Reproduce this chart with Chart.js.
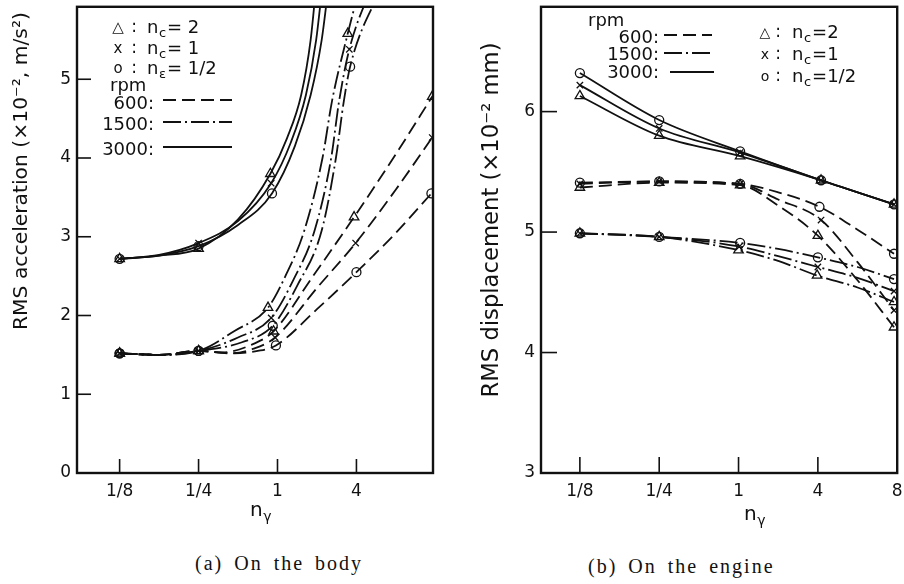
<!DOCTYPE html>
<html><head><meta charset="utf-8">
<script src="https://cdn.jsdelivr.net/npm/chart.js@4.4.0/dist/chart.umd.min.js"></script>
<style>
body{margin:0;background:#fff;width:904px;height:584px;overflow:hidden;position:relative}
#ca{position:absolute;left:0;top:0}
#cb{position:absolute;left:452px;top:0}
.cap{position:absolute;font-family:"Liberation Serif","DejaVu Serif",serif;font-size:20px;letter-spacing:2px;word-spacing:4px;color:#111;white-space:nowrap}
</style></head><body>
<canvas id="ca" width="450" height="540"></canvas>
<canvas id="cb" width="452" height="540"></canvas>
<div class="cap" style="left:195px;top:552px">(a) On the body</div>
<div class="cap" style="left:588px;top:555px">(b) On the engine</div>
<script>
// ---------- tick labels ----------
const xLabelsA = ['1/8','1/4','1','4'];
const xTickPosA = [0,1,2,3];
const yTicksA = [0,1,2,3,4,5];
const xLabelsB = ['1/8','1/4','1','4','8'];
const xTickPosB = [0,1,2,3,4];
const yTicksB = [3,4,5,6];

// ---------- (a) RMS acceleration on the body : [x position, value, marker?] ----------
const acc3000Tri = [[0,2.72,1],[0.5,2.76,0],[1,2.85,1],[1.5,3.22,0],[1.91,3.80,1],[2.12,4.25,0],[2.3,4.8,0],[2.42,5.5,0],[2.5,6.3,0]];
const acc3000X   = [[0,2.72,1],[0.5,2.77,0],[1,2.92,1],[1.5,3.20,0],[1.92,3.68,1],[2.17,4.2,0],[2.36,4.8,0],[2.49,5.5,0],[2.58,6.3,0]];
const acc3000O   = [[0,2.72,1],[0.5,2.76,0],[1,2.88,1],[1.5,3.15,0],[1.93,3.55,1],[2.22,4.15,0],[2.42,4.8,0],[2.56,5.5,0],[2.66,6.3,0]];

const acc1500Tri = [[0,1.52,1],[0.5,1.50,0],[1,1.55,1],[1.45,1.80,0],[1.88,2.10,1],[2.1,2.5,0],[2.34,3.08,0],[2.57,4.0,0],[2.69,4.72,0],[2.89,5.58,1],[3.05,6.2,0]];
const acc1500X   = [[0,1.52,1],[0.5,1.50,0],[1,1.55,1],[1.5,1.72,0],[1.92,1.97,1],[2.2,2.45,0],[2.47,3.08,0],[2.68,4.0,0],[2.78,4.72,0],[2.91,5.38,1],[3.2,6.2,0]];
const acc1500O   = [[0,1.52,1],[0.5,1.50,0],[1,1.55,1],[1.55,1.66,0],[1.94,1.87,1],[2.25,2.38,0],[2.56,3.08,0],[2.74,4.0,0],[2.84,4.72,0],[2.92,5.16,1],[3.33,6.2,0]];

const acc600Tri  = [[0,1.52,1],[0.5,1.50,0],[1,1.55,1],[1.3,1.53,0],[1.65,1.62,0],[1.95,1.80,1],[2.45,2.5,0],[2.97,3.25,1],[3.5,4.05,0],[3.96,4.78,1]];
const acc600X    = [[0,1.52,1],[0.5,1.50,0],[1,1.55,1],[1.4,1.52,0],[1.7,1.58,0],[1.97,1.72,1],[2.5,2.35,0],[2.99,2.92,1],[3.5,3.6,0],[3.96,4.26,1]];
const acc600O    = [[0,1.52,1],[0.5,1.50,0],[1,1.55,1],[1.45,1.52,0],[1.75,1.55,0],[1.98,1.62,1],[2.5,2.08,0],[3.0,2.55,1],[3.5,3.05,0],[3.95,3.55,1]];

// ---------- (b) RMS displacement on the engine ----------
const dis3000Tri = [[0,6.13,1],[1,5.80,1],[2.02,5.63,1],[3.04,5.43,1],[3.96,5.23,1]];
const dis3000X   = [[0,6.22,1],[1,5.86,1],[2.02,5.66,1],[3.04,5.43,1],[3.96,5.23,1]];
const dis3000O   = [[0,6.32,1],[1,5.93,1],[2.02,5.67,1],[3.04,5.43,1],[3.96,5.23,1]];

const dis1500Tri = [[0,4.99,1],[1,4.96,1],[2.0,4.85,1],[2.5,4.76,0],[2.99,4.64,1],[3.5,4.54,0],[3.96,4.42,1]];
const dis1500X   = [[0,4.99,1],[1,4.96,1],[2.01,4.88,1],[2.5,4.80,0],[3.0,4.71,1],[3.5,4.62,0],[3.96,4.51,1]];
const dis1500O   = [[0,4.99,1],[1,4.96,1],[2.02,4.91,1],[2.5,4.86,0],[3.0,4.79,1],[3.5,4.71,0],[3.96,4.61,1]];

const dis600Tri  = [[0,5.37,1],[1,5.41,1],[2.02,5.39,1],[2.5,5.22,0],[3.0,4.97,1],[3.5,4.60,0],[3.96,4.21,1]];
const dis600X    = [[0,5.40,1],[1,5.42,1],[2.02,5.40,1],[2.5,5.27,0],[3.04,5.10,1],[3.5,4.75,0],[3.96,4.35,1]];
const dis600O    = [[0,5.41,1],[1,5.42,1],[2.02,5.40,1],[2.5,5.33,0],[3.02,5.21,1],[3.5,5.02,0],[3.96,4.82,1]];

// ---------- styling ----------
const BLACK = '#111';
const FONT = '"DejaVu Sans", sans-serif';
const SOLID = [];
const DASH600 = [13,6];
const DASH1500 = [18,4,2,4];

function line(points, style, dash){
  return {
    data: points.map(p=>({x:p[0], y:p[1]})),
    borderColor: BLACK, borderWidth: 1.8, borderDash: dash,
    pointStyle: style,
    pointRadius: points.map(p=>p[2] ? (style==='triangle'?5.5:4.5) : 0),
    pointHoverRadius: 0,
    pointBorderColor: BLACK, pointBackgroundColor: 'rgba(0,0,0,0)', pointBorderWidth: 1.3,
    cubicInterpolationMode: 'monotone', fill: false
  };
}

function nsub(ctx, x, y, sub, rest, size){
  ctx.textAlign='left'; ctx.textBaseline='middle';
  ctx.font = size+'px '+FONT; ctx.fillText('n', x, y);
  const w = ctx.measureText('n').width;
  ctx.font = Math.round(size*0.72)+'px '+FONT; ctx.fillText(sub, x+w+0.5, y+size*0.32);
  const w2 = ctx.measureText(sub).width;
  if(rest){ ctx.font = size+'px '+FONT; ctx.fillText(rest, x+w+w2+1.5, y); }
}
function vtext(ctx, txt, cx, cy, len){
  ctx.save(); ctx.font='20px '+FONT;
  const size = 20*len/ctx.measureText(txt).width;
  ctx.font = size.toFixed(1)+'px '+FONT;
  ctx.translate(cx,cy); ctx.rotate(-Math.PI/2);
  ctx.textAlign='center'; ctx.textBaseline='middle'; ctx.fillText(txt,0,0); ctx.restore();
}
function sample(ctx, x1, x2, y, dash){
  ctx.save(); ctx.lineWidth=1.8; ctx.setLineDash(dash); ctx.beginPath(); ctx.moveTo(x1,y); ctx.lineTo(x2,y); ctx.stroke(); ctx.restore();
}

function deco(cfg){
  return {id:'deco', afterDraw(chart){
    const {ctx, chartArea:a, scales:{x,y}} = chart;
    ctx.save(); ctx.strokeStyle=BLACK; ctx.fillStyle=BLACK;
    ctx.lineWidth=2.4; ctx.strokeRect(a.left,a.top,a.right-a.left,a.bottom-a.top);
    ctx.lineWidth=1.6;
    cfg.yTicks.forEach(v=>{const py=y.getPixelForValue(v); ctx.beginPath(); ctx.moveTo(a.left,py); ctx.lineTo(a.left+cfg.tl,py); ctx.stroke();});
    cfg.xTicks.forEach(v=>{const px=x.getPixelForValue(v); ctx.beginPath(); ctx.moveTo(px,a.bottom); ctx.lineTo(px,a.bottom-cfg.tl); ctx.stroke();});
    vtext(ctx, cfg.yTitle, cfg.yt[0], cfg.yt[1], cfg.yt[2]);
    nsub(ctx, cfg.xt[0], cfg.xt[1], 'γ', '', 20);
    cfg.legend(ctx);
    ctx.restore();
  }};
}

function legendA(ctx){
  const rows=[['△','2',28,'c'],['x','1',49,'c'],['o','1/2',69,'ε']];
  rows.forEach(([s,v,y,sub])=>{
    ctx.textAlign='center'; ctx.textBaseline='middle';
    ctx.font='15px '+FONT; ctx.fillText(s,118,y);
    ctx.font='17px '+FONT; ctx.fillText(':',134,y);
    nsub(ctx,147,y,sub,'= '+v,18);
  });
  ctx.font='18px '+FONT; ctx.textAlign='left'; ctx.fillText('rpm',110,86);
  ctx.textAlign='right';
  ctx.fillText('600:',154,104); ctx.fillText('1500:',154,125); ctx.fillText('3000:',154,150);
  sample(ctx,163,232,100,DASH600);
  sample(ctx,163,232,122,DASH1500);
  sample(ctx,163,232,147,SOLID);
}
function legendB(ctx){
  ctx.font='18px '+FONT; ctx.textBaseline='middle'; ctx.textAlign='left';
  ctx.fillText('rpm',136,21);
  ctx.textAlign='right';
  ctx.fillText('600:',207,38); ctx.fillText('1500:',207,55); ctx.fillText('3000:',207,73);
  sample(ctx,212,260,35,DASH600);
  sample(ctx,212,260,53,DASH1500);
  sample(ctx,218,262,72,SOLID);
  const rows=[['△','2',33],['x','1',55],['o','1/2',77]];
  rows.forEach(([s,v,y])=>{
    ctx.textAlign='center';
    ctx.font='14px '+FONT; ctx.fillText(s,313,y);
    ctx.font='17px '+FONT; ctx.fillText(':',326,y);
    nsub(ctx,340,y,'c','='+v,18);
  });
}

function makeChart(id, sets, xmin, xmax, ymin, ymax, xPos, xLab, yTicks, yw, padR, cfg){
  return new Chart(document.getElementById(id), {
    type:'line',
    data:{datasets:sets},
    options:{
      responsive:false, animation:false, devicePixelRatio:1,
      layout:{padding:{left:0,right:padR,top:5,bottom:0}},
      plugins:{legend:{display:false}, tooltip:{enabled:false}},
      scales:{
        x:{type:'linear', min:xmin, max:xmax,
           grid:{display:false, drawTicks:false}, border:{display:false},
           afterBuildTicks:s=>{s.ticks=xPos.map(v=>({value:v}));},
           afterFit:s=>{s.height=67; s.paddingLeft=0; s.paddingRight=0;},
           ticks:{padding:8, autoSkip:false, maxRotation:0, color:BLACK, font:{family:FONT,size:17},
                  callback:(v,i)=>xLab[i]}},
        y:{type:'linear', min:ymin, max:ymax,
           grid:{display:false, drawTicks:false}, border:{display:false},
           afterBuildTicks:s=>{s.ticks=yTicks.map(v=>({value:v}));},
           afterFit:s=>{s.width=yw; s.paddingTop=0; s.paddingBottom=0;},
           ticks:{padding:6, color:BLACK, font:{family:FONT,size:17}}}
      }
    },
    plugins:[deco(cfg)]
  });
}

makeChart('ca', [
  line(acc3000Tri,'triangle',SOLID), line(acc3000X,'crossRot',SOLID), line(acc3000O,'circle',SOLID),
  line(acc1500Tri,'triangle',DASH1500), line(acc1500X,'crossRot',DASH1500), line(acc1500O,'circle',DASH1500),
  line(acc600Tri,'triangle',DASH600), line(acc600X,'crossRot',DASH600), line(acc600O,'circle',DASH600)
], -0.54, 3.97, 0, 5.92, xTickPosA, xLabelsA, yTicksA, 77, 17,
 {yTicks:yTicksA, xTicks:xTickPosA, tl:14, yTitle:'RMS acceleration (×10⁻², m/s²)', yt:[22,171,318], xt:[250,511], legend:legendA});

makeChart('cb', [
  line(dis3000Tri,'triangle',SOLID), line(dis3000X,'crossRot',SOLID), line(dis3000O,'circle',SOLID),
  line(dis1500Tri,'triangle',DASH1500), line(dis1500X,'crossRot',DASH1500), line(dis1500O,'circle',DASH1500),
  line(dis600Tri,'triangle',DASH600), line(dis600X,'crossRot',DASH600), line(dis600O,'circle',DASH600)
], -0.49, 4.0, 3, 6.87, xTickPosB, xLabelsB, yTicksB, 89, 4,
 {yTicks:yTicksB, xTicks:xTickPosB, tl:16, yTitle:'RMS displacement (×10⁻² mm)', yt:[40,220,355], xt:[292,515], legend:legendB});
</script>
</body></html>
